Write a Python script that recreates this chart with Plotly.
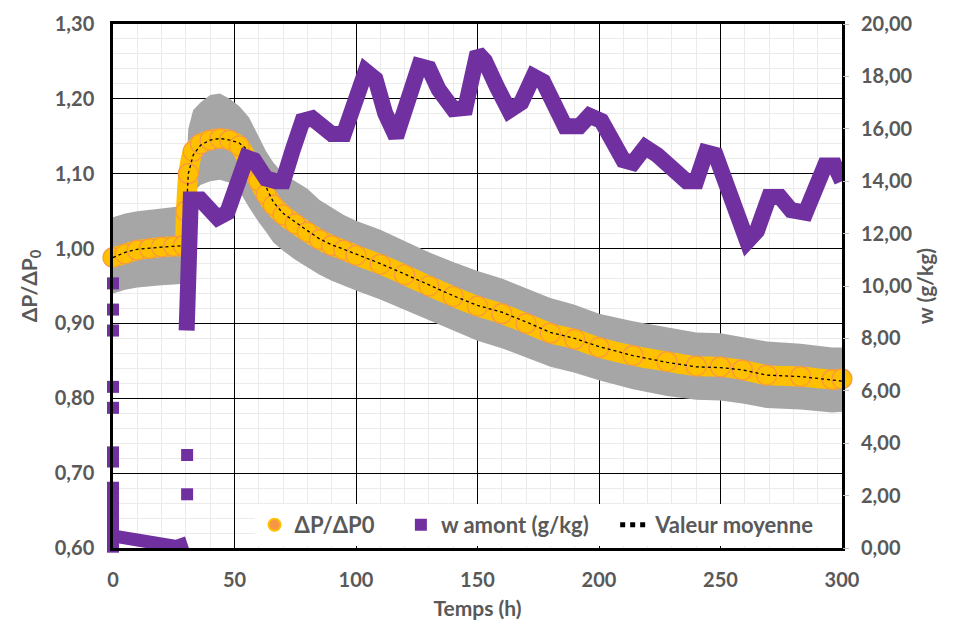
import plotly.graph_objects as go

# Temps (h) for the pressure-drop series
t_dp = [0, 5, 10, 15, 20, 25, 29, 30, 31, 33, 36, 40, 44, 48, 52, 56, 60, 63, 66, 70,
        75, 80, 85, 90, 95, 100, 110, 120, 130, 140, 150, 160, 170, 180, 190, 200,
        214, 228, 240, 250, 259, 269, 283, 296, 300]

# measured dP/dP0 (orange points)
dp_ratio = [0.988, 0.993, 0.998, 1.000, 1.002, 1.003, 1.004, 1.050, 1.100, 1.130, 1.140,
            1.145, 1.147, 1.145, 1.137, 1.115, 1.090, 1.072, 1.058, 1.045, 1.033, 1.022,
            1.012, 1.004, 0.998, 0.991, 0.979, 0.965, 0.950, 0.936, 0.923, 0.913, 0.900,
            0.887, 0.879, 0.868, 0.857, 0.849, 0.843, 0.842, 0.838, 0.831, 0.829, 0.825,
            0.826]

# valeur moyenne (dotted line)
dp_mean = [0.988, 0.995, 0.999, 1.001, 1.002, 1.003, 1.004, 1.040, 1.100, 1.125, 1.138,
           1.145, 1.147, 1.145, 1.141, 1.130, 1.105, 1.082, 1.062, 1.047, 1.035, 1.024,
           1.013, 1.005, 0.999, 0.993, 0.980, 0.966, 0.951, 0.937, 0.924, 0.915, 0.902,
           0.888, 0.880, 0.869, 0.857, 0.848, 0.842, 0.841, 0.838, 0.831, 0.829, 0.824,
           0.823]

# grey uncertainty band
dp_upper = [1.042, 1.047, 1.050, 1.052, 1.054, 1.055, 1.057, 1.100, 1.160, 1.185, 1.195,
            1.205, 1.207, 1.200, 1.190, 1.175, 1.150, 1.130, 1.115, 1.100, 1.090, 1.080,
            1.065, 1.055, 1.045, 1.037, 1.025, 1.010, 0.995, 0.982, 0.970, 0.960, 0.947,
            0.934, 0.925, 0.913, 0.903, 0.895, 0.888, 0.887, 0.882, 0.876, 0.873, 0.868,
            0.868]
dp_lower = [0.940, 0.945, 0.948, 0.950, 0.951, 0.952, 0.953, 0.990, 1.040, 1.075, 1.085,
            1.090, 1.092, 1.088, 1.077, 1.055, 1.035, 1.022, 1.008, 0.997, 0.985, 0.975,
            0.965, 0.957, 0.950, 0.944, 0.932, 0.918, 0.905, 0.891, 0.877, 0.867, 0.855,
            0.842, 0.834, 0.824, 0.812, 0.803, 0.798, 0.797, 0.793, 0.787, 0.785, 0.781,
            0.782]

# w amont (g/kg), low part before 30 h
t_w_low = [0.5, 4, 9, 14, 19, 22, 26, 30.5]
w_low = [0.45, 0.38, 0.30, 0.19, 0.08, 0.02, 0.06, 0.20]

# w amont (g/kg), after 30 h
t_w = [30.3, 30.8, 32, 36, 40, 43, 47, 51, 55, 58, 63, 67, 70, 74, 78, 82, 86, 90, 95,
       100, 104, 108, 112, 116.5, 121, 126, 130, 134, 140, 145, 150, 153, 158, 163, 168,
       173, 177, 181, 186, 192, 196, 201, 206, 210, 214, 219, 224, 230, 236, 240, 244,
       248, 252, 256, 261, 265, 270, 274.5, 279, 285, 289, 293, 297, 300]
w = [8.3, 11.0, 13.3, 13.3, 12.8, 12.6, 12.8, 14.0, 14.9, 14.8, 14.1, 14.0, 14.0, 15.2,
     16.3, 16.4, 16.0, 15.8, 15.8, 17.0, 18.2, 17.9, 16.6, 15.7, 16.9, 18.4, 18.3, 17.5,
     16.75, 16.8, 18.9, 18.6, 17.6, 16.7, 17.0, 18.0, 17.8, 16.9, 16.1, 16.1, 16.5, 16.3,
     15.4, 14.8, 14.7, 15.3, 15.0, 14.4, 14.0, 14.0, 15.1, 15.0, 14.0, 12.9, 11.7, 12.1,
     13.4, 13.4, 12.9, 12.8, 13.8, 14.6, 14.6, 14.0]

# isolated w readings at start-up and at 30 h
t_w_pts = [0, 0, 0, 0, 0, 0, 0, 0, 0, 0, 0, 0, 0, 0, 30.5, 30.5]
w_pts = [10.1, 9.1, 8.3, 6.15, 5.35, 3.65, 3.3, 2.3, 1.9, 1.5, 1.1, 0.7, 0.3, 0.05, 3.55, 2.05]

ORANGE = '#F79646'
GOLD = '#FFC000'
PURPLE = '#7030A0'
GREY_TXT = '#595959'
FONT = 'Lato'
NB = '\u00a0'  # a bit of extra room between legend entries

fig = go.Figure()

# grey band
fig.add_trace(go.Scatter(x=t_dp, y=dp_upper, mode='lines', line=dict(width=0),
                         showlegend=False, hoverinfo='skip'))
fig.add_trace(go.Scatter(x=t_dp, y=dp_lower, mode='lines', line=dict(width=0),
                         fill='tonexty', fillcolor='#A6A6A6',
                         showlegend=False, hoverinfo='skip'))

# orange measured points (drawn as a thick gold band with orange rims)
fig.add_trace(go.Scatter(x=t_dp, y=dp_ratio, mode='lines+markers',
                         line=dict(color=GOLD, width=20, shape='spline', smoothing=0.6),
                         marker=dict(symbol='circle', size=20, color=GOLD,
                                     line=dict(color=ORANGE, width=1.2)),
                         showlegend=False, hoverinfo='skip', cliponaxis=False))
# legend entry only
fig.add_trace(go.Scatter(x=[None], y=[None], mode='markers', name='ΔP/ΔP0' + NB * 4,
                         marker=dict(symbol='circle', size=12, color=ORANGE,
                                     line=dict(color=GOLD, width=2)),
                         legendrank=1))

# mean line
fig.add_trace(go.Scatter(x=t_dp, y=dp_mean, mode='lines', name='Valeur moyenne' + NB * 4,
                         line=dict(color='black', width=1.3, dash='dot'),
                         legendrank=3))

# w amont on the right axis
fig.add_trace(go.Scatter(x=t_w_low, y=w_low, yaxis='y2', mode='lines',
                         line=dict(color=PURPLE, width=13),
                         showlegend=False, hoverinfo='skip'))
fig.add_trace(go.Scatter(x=t_w, y=w, yaxis='y2', mode='lines',
                         line=dict(color=PURPLE, width=16),
                         showlegend=False, hoverinfo='skip'))
fig.add_trace(go.Scatter(x=t_w_pts, y=w_pts, yaxis='y2', mode='markers',
                         name='w amont (g/kg)' + NB * 4,
                         marker=dict(symbol='square', size=12, color=PURPLE),
                         legendrank=2, cliponaxis=False))

tick_font = dict(family=FONT, size=20, color=GREY_TXT, weight='bold')
title_font = dict(family=FONT, size=21, color=GREY_TXT, weight='bold')

# the page body has an 8px margin, so the figure is 8px smaller than the window
fig.update_layout(
    width=946,
    height=618,
    margin=dict(l=105, r=112, t=16, b=78),
    paper_bgcolor='white',
    plot_bgcolor='white',
    separators=', ',
    font=dict(family=FONT, size=20, color=GREY_TXT),
    xaxis=dict(
        range=[0, 300], dtick=50, tickfont=tick_font, ticklabelstandoff=12,
        title=dict(text='Temps (h)', font=title_font, standoff=12),
        showgrid=True, gridcolor='black', gridwidth=1,
        minor=dict(dtick=10, showgrid=True, gridcolor='#EBEBEB'),
        showline=True, linecolor='black', linewidth=2.5, mirror=True,
        zeroline=False, ticks='', automargin=False,
    ),
    yaxis=dict(
        range=[0.6, 1.3], dtick=0.1, tickformat='.2f', tickfont=tick_font,
        ticklabelstandoff=12,
        title=dict(text='ΔP/ΔP<sub>0</sub>', font=title_font, standoff=12),
        showgrid=True, gridcolor='black', gridwidth=1,
        minor=dict(dtick=0.02, showgrid=True, gridcolor='#EBEBEB'),
        showline=True, linecolor='black', linewidth=2.5, mirror=True,
        zeroline=False, ticks='', automargin=False,
    ),
    yaxis2=dict(
        overlaying='y', side='right',
        range=[0, 20], dtick=2, tickformat='.2f', tickfont=tick_font,
        ticklabelstandoff=8,
        title=dict(text='w (g/kg)', font=title_font, standoff=4),
        showgrid=False, zeroline=False, automargin=False,
        ticks='outside', ticklen=6, tickcolor='#BFBFBF',
    ),
    legend=dict(
        orientation='h', x=0.998, xanchor='right', y=0.004, yanchor='bottom',
        bgcolor='white', itemsizing='constant', traceorder='normal',
        font=dict(family=FONT, size=22, color=GREY_TXT, weight='bold'),
    ),
)

fig.write_html("out.html")
